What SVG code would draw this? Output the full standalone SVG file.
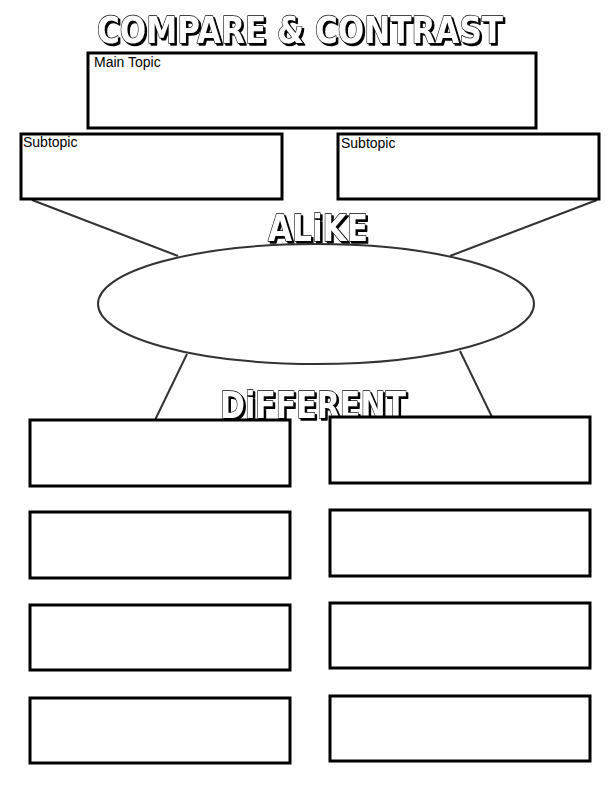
<svg xmlns="http://www.w3.org/2000/svg" width="612" height="792" viewBox="0 0 612 792">
<style>
.box{fill:#fff;stroke:#000;stroke-width:3}
.conn{stroke:#333;stroke-width:2;fill:none}
.lbl{font-family:"Liberation Sans",Arial,sans-serif;font-size:14px;fill:#000}
.bub{font-family:"DejaVu Sans",sans-serif;font-weight:bold;fill:#fff;stroke:#000;stroke-width:1.4;stroke-linejoin:round;paint-order:stroke;filter:url(#shadow)}
</style>
<defs>
<filter id="shadow" x="-10%" y="-50%" width="120%" height="200%">
<feOffset in="SourceAlpha" dx="1.5" dy="2" result="off"/>
<feFlood flood-color="#000"/>
<feComposite in2="off" operator="in" result="sh"/>
<feMerge><feMergeNode in="sh"/><feMergeNode in="SourceGraphic"/></feMerge>
</filter>
</defs>
<rect width="612" height="792" fill="#fff"/>
<g id="connectors">
<line class="conn" x1="32" y1="200" x2="178" y2="256"/>
<line class="conn" x1="597" y1="200" x2="450" y2="256"/>
<line class="conn" x1="187" y1="354" x2="155" y2="420"/>
<line class="conn" x1="460" y1="351" x2="492" y2="417"/>
</g>
<g id="title">
<text class="bub" x="97" y="43" font-size="38" textLength="406" lengthAdjust="spacingAndGlyphs">COMPARE &amp; CONTRAST</text>
</g>
<g id="main-topic">
<rect class="box" x="88" y="53" width="448" height="75"/>
<text class="lbl" x="94" y="67">Main Topic</text>
</g>
<g id="subtopic-left">
<rect class="box" x="21" y="134" width="261" height="65"/>
<text class="lbl" x="23" y="147">Subtopic</text>
</g>
<g id="subtopic-right">
<rect class="box" x="338" y="134" width="261" height="65"/>
<text class="lbl" x="341" y="148">Subtopic</text>
</g>
<g id="alike-label">
<text class="bub" x="268" y="241" font-size="38" textLength="100" lengthAdjust="spacingAndGlyphs">ALiKE</text>
</g>
<g id="alike">
<ellipse cx="316" cy="304" rx="218" ry="60" fill="#fff" stroke="#333" stroke-width="2"/>
</g>
<g id="different-label">
<text class="bub" x="220" y="418" font-size="38" textLength="186" lengthAdjust="spacingAndGlyphs">DiFFERENT</text>
</g>
<g id="diff-left-1"><rect class="box" x="30" y="420" width="260" height="66"/></g>
<g id="diff-left-2"><rect class="box" x="30" y="512" width="260" height="66"/></g>
<g id="diff-left-3"><rect class="box" x="30" y="605" width="260" height="65"/></g>
<g id="diff-left-4"><rect class="box" x="30" y="698" width="260" height="65"/></g>
<g id="diff-right-1"><rect class="box" x="330" y="417" width="260" height="66"/></g>
<g id="diff-right-2"><rect class="box" x="330" y="510" width="260" height="66"/></g>
<g id="diff-right-3"><rect class="box" x="330" y="603" width="260" height="65"/></g>
<g id="diff-right-4"><rect class="box" x="330" y="696" width="260" height="65"/></g>
</svg>
